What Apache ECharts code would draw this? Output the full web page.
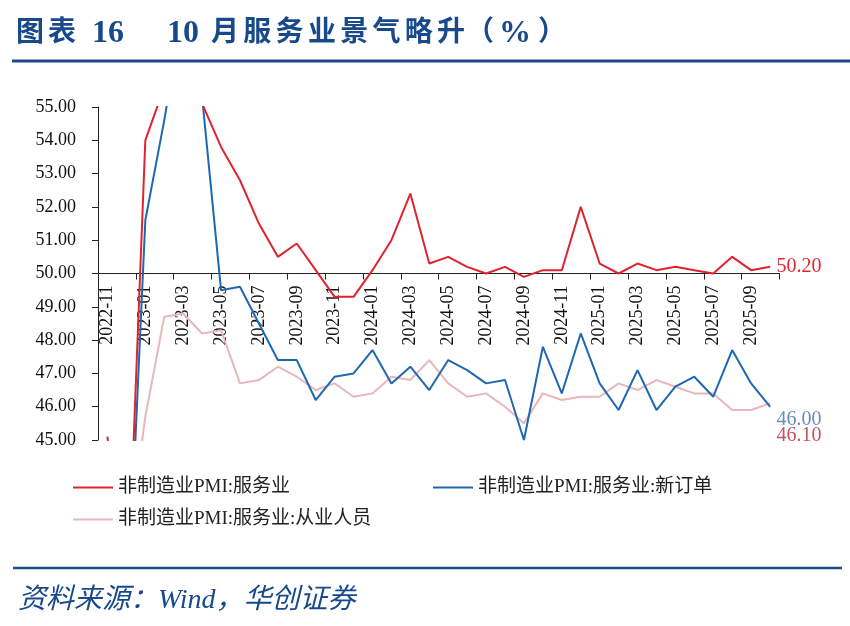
<!DOCTYPE html>
<html>
<head>
<meta charset="utf-8">
<script src="https://cdn.jsdelivr.net/npm/echarts@6/dist/echarts.min.js"></script>
<style>html,body{margin:0;padding:0;background:#fff}#c{width:850px;height:626px}</style>
</head>
<body>
<div id="c"></div>
<script>
// ---- data ----
const months = ['2022-11','2022-12',
  '2023-01','2023-02','2023-03','2023-04','2023-05','2023-06','2023-07','2023-08','2023-09','2023-10','2023-11','2023-12',
  '2024-01','2024-02','2024-03','2024-04','2024-05','2024-06','2024-07','2024-08','2024-09','2024-10','2024-11','2024-12',
  '2025-01','2025-02','2025-03','2025-04','2025-05','2025-06','2025-07','2025-08','2025-09','2025-10'];
const servicePMI = [45.1,39.4,
  54.0,55.6,56.9,55.1,53.8,52.8,51.5,50.5,50.9,50.1,49.3,49.3,
  50.1,51.0,52.4,50.3,50.5,50.2,50.0,50.2,49.9,50.1,50.1,52.0,
  50.3,50.0,50.3,50.1,50.2,50.1,50.0,50.5,50.1,50.2];
const newOrders = [41.4,39.0,
  51.6,54.6,58.0,55.3,49.5,49.6,48.5,47.4,47.4,46.2,46.9,47.0,
  47.7,46.7,47.2,46.5,47.4,47.1,46.7,46.8,45.0,47.8,46.4,48.2,
  46.7,45.9,47.1,45.9,46.6,46.9,46.3,47.7,46.7,46.0];
const employment = [44.0,41.5,
  45.7,48.7,48.8,48.2,48.3,46.7,46.8,47.2,46.9,46.5,46.7,46.3,
  46.4,46.9,46.8,47.4,46.7,46.3,46.4,46.0,45.5,46.4,46.2,46.3,
  46.3,46.7,46.5,46.8,46.6,46.4,46.4,45.9,45.9,46.1];
const seriesNames = ['非制造业PMI:服务业','非制造业PMI:服务业:新订单','非制造业PMI:服务业:从业人员'];
const yMin = 45, yMax = 55, yStep = 1, axisCross = 50;
const titleText = ['图表', '16', '10', '月服务业景气略升', '（', '%', '）'];
const sourceText = '资料来源：Wind，华创证券';

// ---- styles ----
const RED = '#e0232e', BLUE = '#1f68b0', PINK = '#e8b7bb';
const NAVY = '#17498b', RULE = '#1c4c8c';
const SERIF = '"Liberation Serif","Times New Roman",serif';
const MIX = '"Liberation Serif","Noto Sans CJK SC",serif';
const gridTop = 107, gridBottomPx = 440, gridH = gridBottomPx - gridTop;

function withEndLabel(values, color, offsetY) {
  const last = values.length - 1;
  return values.map((v, i) => i === last ? {
    value: v, symbol: 'circle', symbolSize: 1,
    label: { show: true, position: 'right', distance: 6, offset: [0, offsetY],
      formatter: v.toFixed(2), color: color, fontSize: 20, fontFamily: SERIF }
  } : v);
}

function lineSeries(name, values, color, labelColor, offY) {
  return {
    name: name, type: 'line', data: withEndLabel(values, labelColor, offY),
    color: color, symbol: 'none', showAllSymbol: true, smooth: false, clip: true,
    lineStyle: { color: color, width: 2 },
    emphasis: { disabled: true }
  };
}

// title pieces
const titleGraphics = [];
const titleLayout = [
  { x: 16, pitch: 32, size: 28 },
  { x: 92, size: 32, latin: true },
  { x: 167, size: 32, latin: true },
  { x: 211, pitch: 32.3, size: 28 },
  { x: 466, size: 28 },
  { x: 499, size: 32, latin: true },
  { x: 538, size: 28 }
];
titleText.forEach((t, k) => {
  const L = titleLayout[k];
  const chars = L.pitch ? t.split('') : [t];
  chars.forEach((ch, j) => {
    titleGraphics.push({
      type: 'text', x: L.x + (L.pitch ? j * L.pitch : 0), y: 34, silent: true,
      style: { text: ch, fill: NAVY, fontSize: L.size, fontWeight: 'bold',
        fontFamily: L.latin ? SERIF : MIX, align: 'left', verticalAlign: 'middle',
        textAlign: 'left', textVerticalAlign: 'middle' }
    });
  });
});

const legendText = { fontSize: 19, fontFamily: MIX, color: '#222' };
function legendAt(name, left, top) {
  return { data: [name], left: left, top: top, icon: 'rect', itemWidth: 40, itemHeight: 2,
    padding: 0, textStyle: legendText, selectedMode: false };
}

const chart = echarts.init(document.getElementById('c'));
chart.setOption({
  animation: false,
  backgroundColor: '#fff',
  grid: { left: 98, right: 70.5, top: gridTop, height: gridH, containLabel: false, outerBoundsMode: 'none' },
  xAxis: {
    type: 'category', data: months, boundaryGap: true,
    offset: -(axisCross - yMin) / (yMax - yMin) * gridH,
    axisLine: { show: true, lineStyle: { color: '#222', width: 1 } },
    axisTick: { show: true, interval: 1, length: 6, lineStyle: { color: '#222' } },
    axisLabel: { interval: 1, rotate: 90, margin: 12, fontSize: 18, fontFamily: SERIF, color: '#111' },
    splitLine: { show: false }
  },
  yAxis: {
    type: 'value', min: yMin, max: yMax, interval: yStep,
    axisLine: { show: true, lineStyle: { color: '#222', width: 1 } },
    axisTick: { show: true, length: 6, lineStyle: { color: '#222' } },
    axisLabel: { formatter: v => v.toFixed(2), margin: 22, fontSize: 18, fontFamily: SERIF, color: '#111' },
    splitLine: { show: false }
  },
  legend: [
    legendAt(seriesNames[0], 73, 478),
    legendAt(seriesNames[1], 433, 478),
    legendAt(seriesNames[2], 73, 510)
  ],
  series: [
    lineSeries(seriesNames[2], employment, PINK, '#c2545d', 32),
    lineSeries(seriesNames[1], newOrders, BLUE, '#6c8cbf', 13),
    lineSeries(seriesNames[0], servicePMI, RED, '#e3262d', 0)
  ],
  graphic: titleGraphics.concat([
    { type: 'line', silent: true, shape: { x1: 12, y1: 61, x2: 850, y2: 61 }, style: { stroke: RULE, lineWidth: 3 } },
    { type: 'line', silent: true, shape: { x1: 13, y1: 568, x2: 842, y2: 568 }, style: { stroke: RULE, lineWidth: 2.5 } },
    { type: 'text', x: 18, y: 601, silent: true,
      style: { text: sourceText, fill: NAVY, fontSize: 28, fontStyle: 'italic', fontFamily: MIX,
        align: 'left', verticalAlign: 'middle', textAlign: 'left', textVerticalAlign: 'middle' } }
  ])
});
</script>
</body>
</html>
